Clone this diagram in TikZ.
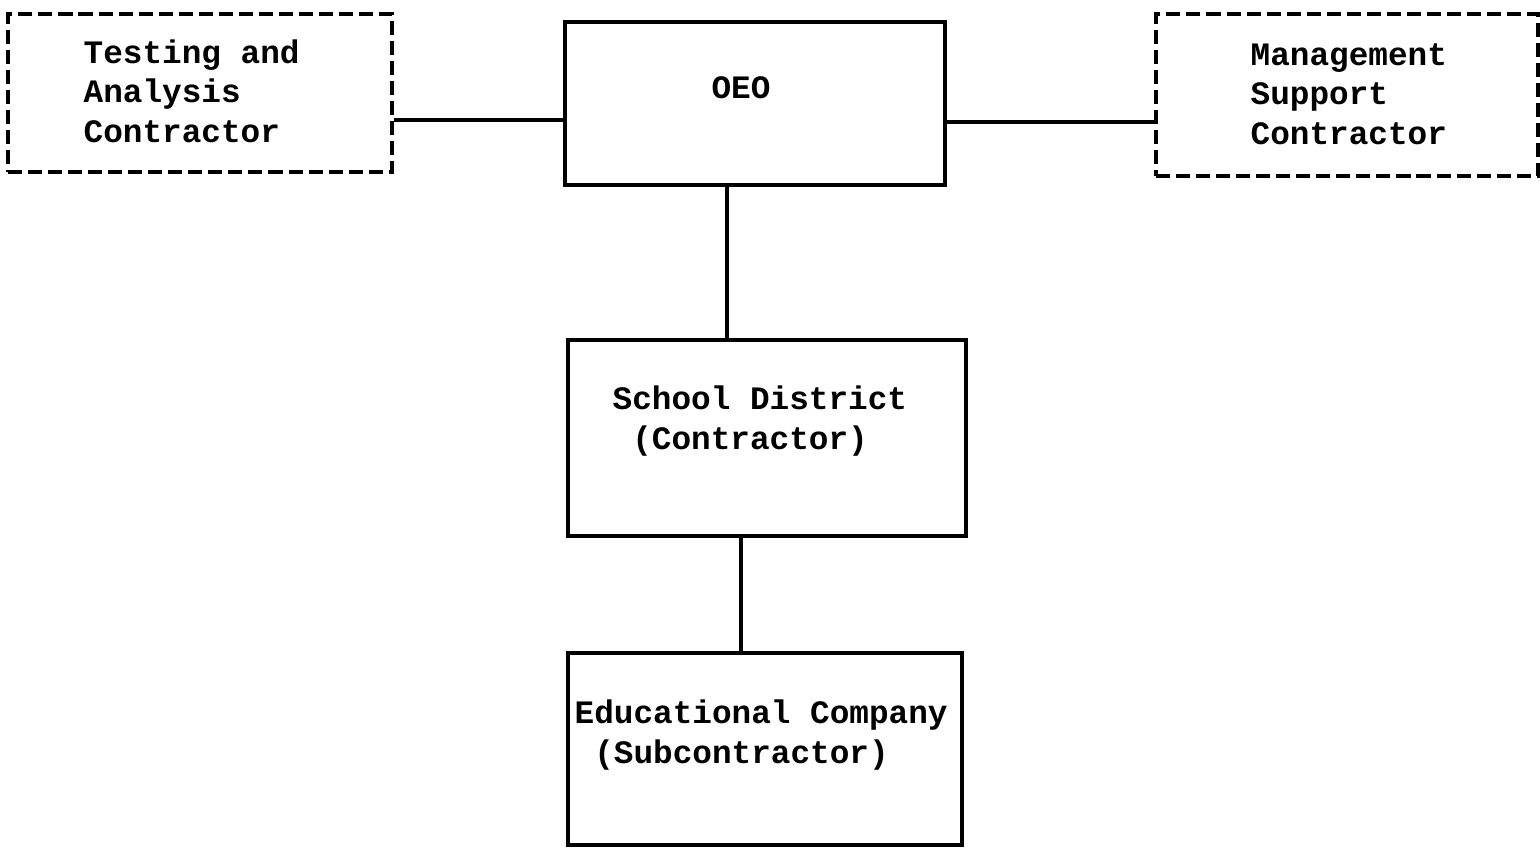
\documentclass[tikz,border=0pt]{standalone}
\usepackage{fontspec}
\setmonofont{Liberation Mono}
\begin{document}
\begin{tikzpicture}[
    x=0.01cm,
    y=-0.01cm,
    font=\ttfamily\bfseries\fontsize{9.3}{11.2}\selectfont,
    unitbox/.style={draw, line width=1.15pt, inner sep=0pt},
    outsidebox/.style={draw, line width=1pt, dash pattern=on 4pt off 1.7pt, inner sep=0pt},
    boxtext/.style={align=left, inner sep=0pt, anchor=west},
    link/.style={line width=0.9pt}
  ]

  \useasboundingbox (0,0) rectangle (1540,848);

  % ---- caixas de cima ---------------------------------------------
  \node[outsidebox, minimum width=3.84cm, minimum height=1.58cm] (testing) at (200,93) {};
  \node[unitbox, minimum width=3.80cm, minimum height=1.63cm] (oeo) at (755,103.5) {};
  \node[outsidebox, minimum width=3.82cm, minimum height=1.62cm] (mgmt) at (1347,95) {};

  \node[boxtext] (testingtxt) at (83,91) {Testing and\\Analysis\\Contractor};
  \node (oeotxt) at (741,88) {OEO};
  \node[boxtext] (mgmttxt) at (1250,94) {Management\\Support\\Contractor};

  % ---- caixas de baixo --------------------------------------------
  \node[unitbox, minimum width=3.98cm, minimum height=1.96cm] (school) at (767,438) {};
  \node[unitbox, minimum width=3.94cm, minimum height=1.92cm] (company) at (765,749) {};

  \node[boxtext] (schooltxt) at (612,421) {School District\\~(Contractor)};
  \node[boxtext] (companytxt) at (574,735) {Educational Company\\~(Subcontractor)};

  % ---- ligacoes ---------------------------------------------------
  \coordinate (westrow) at (0,120);
  \coordinate (eastrow) at (0,122);
  \coordinate (upcol) at (727,0);
  \coordinate (lowcol) at (741,0);

  \draw[link] (testing.east |- westrow) -- (oeo.west |- westrow);
  \draw[link] (oeo.east |- eastrow) -- (mgmt.west |- eastrow);
  \draw[link] (oeo.south -| upcol) -- (school.north -| upcol);
  \draw[link] (school.south -| lowcol) -- (company.north -| lowcol);
\end{tikzpicture}
\end{document}
